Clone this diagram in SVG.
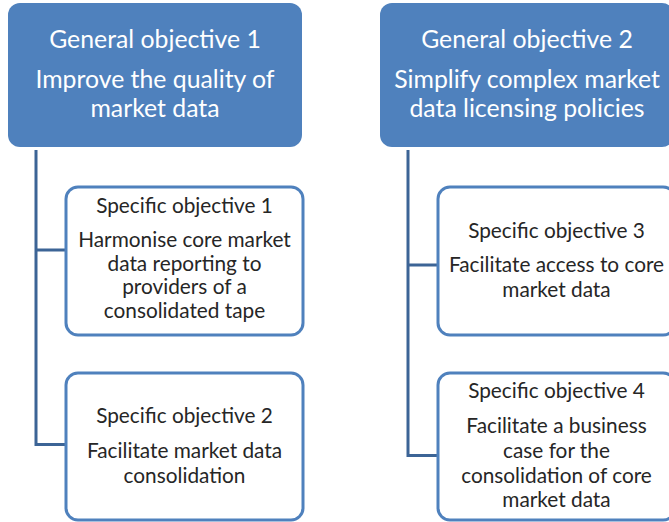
<svg xmlns="http://www.w3.org/2000/svg" width="669" height="522" viewBox="0 0 669 522">
<style>
.gen{fill:#4F81BD;stroke:none}
.spec{fill:#FFFFFF;stroke:#4F81BD;stroke-width:3}
.conn{fill:none;stroke:#3C6496;stroke-width:3}
.gt{font-family:Lato,"Liberation Sans",sans-serif;font-size:24.8px;fill:#FFFFFF;text-anchor:middle}
.st{font-family:Lato,"Liberation Sans",sans-serif;font-size:20.8px;fill:#262626;text-anchor:middle}
</style>
<rect width="669" height="522" fill="#FFFFFF"/>
<g id="connectors">
<path class="conn" d="M36,150 V444.5 H65 M36,250 H65"/>
<path class="conn" d="M408,150 V455.5 H437 M408,265 H437"/>
</g>
<g id="go1">
<rect class="gen" x="8" y="3" width="294" height="144" rx="12"/>
<text class="gt" x="155" y="48">General objective 1</text>
<text class="gt" x="155" y="88">Improve the quality of</text>
<text class="gt" x="155" y="117">market data</text>
</g>
<g id="go2">
<rect class="gen" x="380" y="3" width="294" height="144" rx="12"/>
<text class="gt" x="527" y="48">General objective 2</text>
<text class="gt" x="527" y="88">Simplify complex market</text>
<text class="gt" x="527" y="117">data licensing policies</text>
</g>
<g id="so1">
<rect class="spec" x="66" y="187" width="237" height="148" rx="12"/>
<text class="st" x="184.5" y="213">Specific objective 1</text>
<text class="st" x="184.5" y="247">Harmonise core market</text>
<text class="st" x="184.5" y="270.5">data reporting to</text>
<text class="st" x="184.5" y="294">providers of a</text>
<text class="st" x="184.5" y="317.5">consolidated tape</text>
</g>
<g id="so2">
<rect class="spec" x="66" y="373" width="237" height="147" rx="12"/>
<text class="st" x="184.5" y="423">Specific objective 2</text>
<text class="st" x="184.5" y="458">Facilitate market data</text>
<text class="st" x="184.5" y="483">consolidation</text>
</g>
<g id="so3">
<rect class="spec" x="438" y="187" width="237" height="148" rx="12"/>
<text class="st" x="556.5" y="238">Specific objective 3</text>
<text class="st" x="556.5" y="272">Facilitate access to core</text>
<text class="st" x="556.5" y="297">market data</text>
</g>
<g id="so4">
<rect class="spec" x="438" y="373" width="237" height="147" rx="12"/>
<text class="st" x="556.5" y="398">Specific objective 4</text>
<text class="st" x="556.5" y="433">Facilitate a business</text>
<text class="st" x="556.5" y="458">case for the</text>
<text class="st" x="556.5" y="483">consolidation of core</text>
<text class="st" x="556.5" y="507">market data</text>
</g>
</svg>
